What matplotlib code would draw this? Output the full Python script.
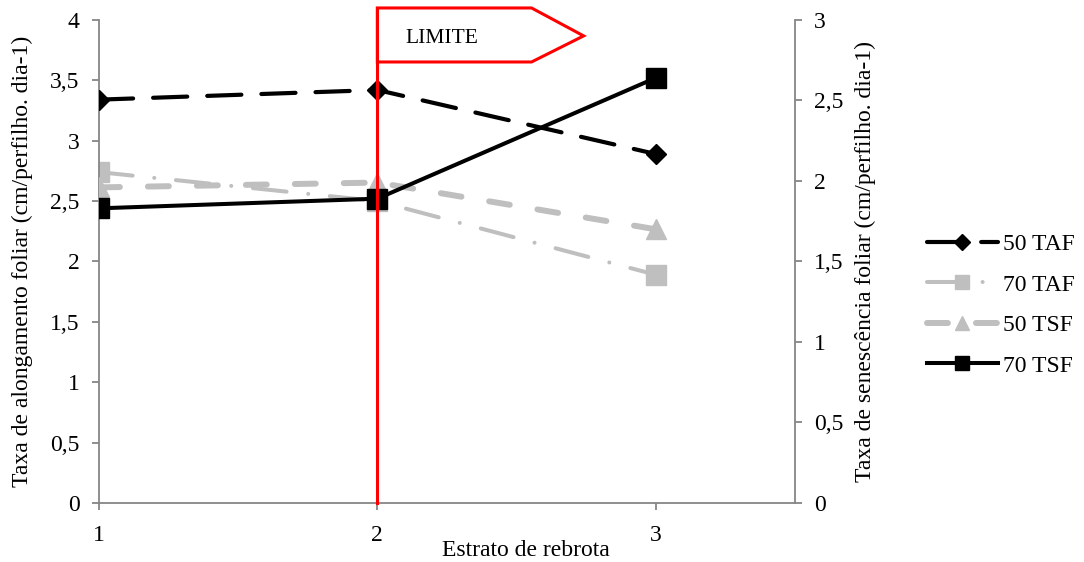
import matplotlib
matplotlib.use('Agg')
import matplotlib.pyplot as plt
import matplotlib.transforms as mtransforms
from matplotlib.patches import Polygon

plt.rcParams['font.family'] = ['Liberation Serif', 'DejaVu Serif']
plt.rcParams['font.size'] = 17

# dados
estrato = [1, 2, 3]
taf_50 = [3.34, 3.42, 2.89]   # eixo esquerdo
taf_70 = [2.74, 2.50, 1.89]   # eixo esquerdo
tsf_50 = [1.96, 1.99, 1.70]   # eixo direito
tsf_70 = [1.83, 1.89, 2.64]   # eixo direito
yticks_esq = [0, 0.5, 1, 1.5, 2, 2.5, 3, 3.5, 4]
yticks_dir = [0, 0.5, 1, 1.5, 2, 2.5, 3]

cinza_eixo = '#868686'
cinza = '#BFBFBF'

def virgula(v):
    s = ('%g' % v)
    return s.replace('.', ',')

fig = plt.figure(figsize=(10.84, 5.62), dpi=100)
ax = fig.add_axes([0.0913, 0.105, 0.642, 0.8595])
ax2 = ax.twinx()

l1, = ax.plot(estrato, taf_50, color='black', lw=3, marker='D', markersize=10.5,
              dashes=(8.2, 4.8), dash_capstyle='round', label='50 TAF', zorder=3)
l2, = ax.plot(estrato, taf_70, color=cinza, lw=2.9, marker='s', markersize=14,
              dashes=(8.4, 5.4, 0.01, 5.4), dash_capstyle='round', label='70 TAF', zorder=2)
l3, = ax2.plot(estrato, tsf_50, color=cinza, lw=4.3, marker='^', markersize=14,
               dashes=(3.5, 4.7), dash_capstyle='round', label='50 TSF', zorder=2)
l4, = ax2.plot(estrato, tsf_70, color='black', lw=2.9, marker='s', markersize=14,
               label='70 TSF', zorder=3)

ax.set_xlim(1, 3.5)
ax.set_ylim(0, 4)
ax2.set_ylim(0, 3)
ax.set_xticks(estrato)
ax.set_yticks(yticks_esq)
ax.set_yticklabels([virgula(v) for v in yticks_esq])
ax2.set_yticks(yticks_dir)
ax2.set_yticklabels([virgula(v) for v in yticks_dir])

for a in (ax, ax2):
    a.spines['top'].set_visible(False)
    for s in ('left', 'right', 'bottom'):
        a.spines[s].set_color(cinza_eixo)
        a.spines[s].set_linewidth(1.3)
    a.tick_params(color=cinza_eixo, width=1.3, length=5, pad=9, labelsize=17)
ax.spines['right'].set_visible(False)
ax2.spines['left'].set_visible(False)
ax2.spines['bottom'].set_visible(False)
ax.tick_params(axis='x', pad=11)

ax.set_ylabel('Taxa de alongamento foliar (cm/perfilho. dia-1)', fontsize=17)
ax.yaxis.set_label_coords(-0.095, 0.5)
ax2.set_ylabel('Taxa de senescência foliar (cm/perfilho. dia-1)', fontsize=17, rotation=90)
ax2.yaxis.set_label_coords(1.086, 0.5)
ax.set_xlabel('Estrato de rebrota', fontsize=17)
ax.xaxis.set_label_coords(0.613, -0.099)
ax.xaxis.label.set_va('center')

# linha limite e bandeira
trans = mtransforms.blended_transform_factory(ax2.transData, ax2.transAxes)
ax2.plot([2, 2], [0, 1.0248], color='red', lw=2.2, transform=trans, clip_on=False, zorder=10)
flag = Polygon([[2, 1.0248], [2.554, 1.0248], [2.741, 0.967], [2.554, 0.913], [2, 0.913]],
               closed=True, facecolor='white', edgecolor='red', lw=2.2,
               transform=trans, clip_on=False, zorder=9)
ax2.add_patch(flag)
ax2.text(2.1, 0.962, 'LIMITE', transform=trans, fontsize=15.5, va='center', ha='left', zorder=11)

fig.legend(handles=[l1, l2, l3, l4], loc='center left', bbox_to_anchor=(0.855, 0.457),
           frameon=False, borderpad=0, borderaxespad=0, handlelength=3.0, markerscale=0.75,
           handletextpad=0.22, labelspacing=0.8, fontsize=17)

fig.savefig('out.png', dpi=100)
